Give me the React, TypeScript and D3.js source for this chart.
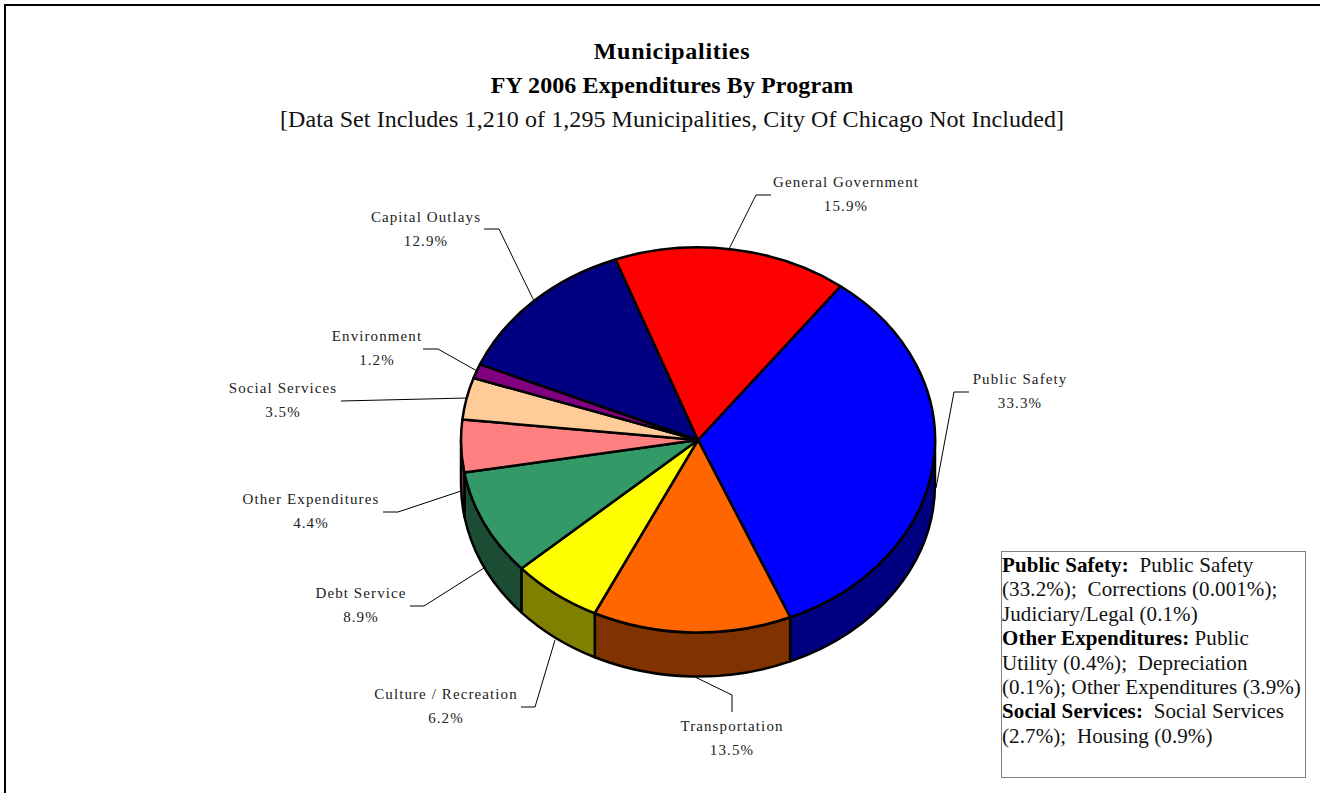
import React from 'react';
import * as d3 from 'd3';

const categories = ['Public Safety', 'Transportation', 'Culture / Recreation', 'Debt Service', 'Other Expenditures', 'Social Services', 'Environment', 'Capital Outlays', 'General Government'];
const shares = [33.3, 13.5, 6.2, 8.9, 4.4, 3.5, 1.2, 12.9, 15.9];
const topColors = ['#0000ff', '#ff6600', '#ffff00', '#339966', '#ff8080', '#ffcc99', '#800080', '#000080', '#ff0000'];
const sideColors = ['#000080', '#803300', '#808000', '#1a4d33', '#804040', '#806650', '#400040', '#000040', '#800000'];

const titleLines = ['Municipalities', 'FY 2006 Expenditures By Program'];
const titleSpacing = [0.7, 0.1];
const subtitle = '[Data Set Includes 1,210 of 1,295 Municipalities, City Of Chicago Not Included]';

const noteLines: [string, string][] = [
  ['Public Safety:', '  Public Safety'],
  ['', '(33.2%);  Corrections (0.001%);'],
  ['', 'Judiciary/Legal (0.1%)'],
  ['Other Expenditures:', ' Public'],
  ['', 'Utility (0.4%);  Depreciation'],
  ['', '(0.1%); Other Expenditures (3.9%)'],
  ['Social Services:', '  Social Services'],
  ['', '(2.7%);  Housing (0.9%)'],
];

// label placement, same order as categories
const labelAt = [[1020, 384], [732, 731], [446, 699], [361, 598], [311, 504], [283, 393], [377, 341], [426, 222], [846, 187]];
const leaders = [
  [[969, 392], [954, 392], [936, 488]],
  [[732, 712], [732, 695], [695, 677]],
  [[521, 707], [535, 707], [555, 640]],
  [[410, 606], [424, 606], [484, 568]],
  [[383, 512], [398, 512], [461, 491]],
  [[341, 401], [467, 398]],
  [[423, 349], [438, 349], [477, 371]],
  [[484, 229], [499, 229], [534, 301]],
  [[771, 195], [756, 195], [729, 249]],
];

const cx = 698;
const cy = 440;
const rx = 237;
const ry = 192.5;
const depth = 44;
const serif = '"Liberation Serif", serif';

const startDeg = 37;
const slices = d3.pie<number>().sort(null)
  .startAngle((startDeg * Math.PI) / 180)
  .endAngle(((startDeg + 360) * Math.PI) / 180)(shares);

const unitArc = d3.arc<d3.PieArcDatum<number>>().innerRadius(0).outerRadius(1);

const px = (a: number) => cx + rx * Math.sin(a);
const py = (a: number) => cy - ry * Math.cos(a);

// the rim is only seen between 3 o'clock and 9 o'clock
function wallPath(a0: number, a1: number) {
  const from = Math.max(a0, Math.PI / 2);
  const to = Math.min(a1, (3 * Math.PI) / 2);
  if (to <= from) return null;
  return `M${px(from)},${py(from)}A${rx},${ry} 0 0 1 ${px(to)},${py(to)}` +
    `L${px(to)},${py(to) + depth}A${rx},${ry} 0 0 0 ${px(from)},${py(from) + depth}Z`;
}

const line = d3.line();

export default function App() {
  return (
    <svg width={1320} height={793} style={{ position: 'absolute', left: 0, top: 0, background: '#fff' }} fontFamily={serif}>
      <rect x={5} y={5} width={1330} height={800} fill="none" stroke="#000" strokeWidth={2} />

      <g textAnchor="middle" fontWeight="bold" fontSize={24} fill="#000">
        {titleLines.map((t, i) => (
          <text key={t} x={672} y={59 + i * 34} letterSpacing={titleSpacing[i]}>{t}</text>
        ))}
      </g>
      <text x={672} y={127} textAnchor="middle" fontSize={24} fill="#111" letterSpacing={0.07}>{subtitle}</text>

      {leaders.map((pts, i) => (
        <path key={i} d={line(pts as [number, number][]) || ''} fill="none" stroke="#000" strokeWidth={1} />
      ))}

      {slices.map((s, i) => {
        const d = wallPath(s.startAngle, s.endAngle);
        return d && <path key={i} d={d} fill={sideColors[i]} stroke="#000" strokeWidth={2.5} strokeLinejoin="round" />;
      })}

      <g transform={`translate(${cx},${cy}) scale(${rx},${ry})`}>
        {slices.map((s, i) => (
          <path key={i} d={unitArc(s) || ''} fill={topColors[i]} stroke="#000" strokeWidth={2.5} strokeLinejoin="round" vectorEffect="non-scaling-stroke" />
        ))}
      </g>

      <g textAnchor="middle" fontSize={15} fill="#222" letterSpacing={1.1}>
        {categories.map((c, i) => (
          <text key={c}>
            <tspan x={labelAt[i][0]} y={labelAt[i][1]}>{c}</tspan>
            <tspan x={labelAt[i][0]} y={labelAt[i][1] + 24}>{shares[i].toFixed(1)}%</tspan>
          </text>
        ))}
      </g>

      <rect x={1001.5} y={551.5} width={304} height={226} fill="#fff" stroke="#808080" strokeWidth={1} />
      <g fontSize={21} fill="#111" letterSpacing={0.1}>
        {noteLines.map(([head, rest], i) => (
          <text key={i} x={1002} y={572 + i * 24.4} xmlSpace="preserve" style={{ whiteSpace: 'pre' }}>
            {head && <tspan fontWeight="bold" fill="#000">{head}</tspan>}
            {rest}
          </text>
        ))}
      </g>
    </svg>
  );
}
